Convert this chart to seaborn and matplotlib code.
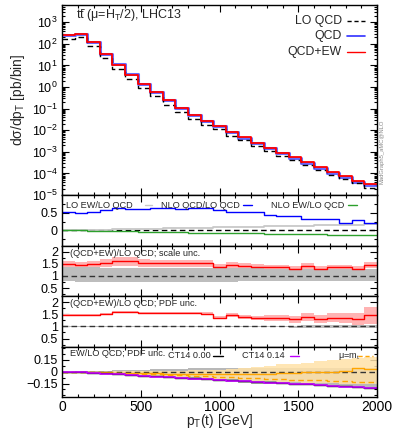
import numpy as np
import pandas as pd
import matplotlib
matplotlib.use("Agg")
import matplotlib.pyplot as plt
from matplotlib.lines import Line2D
from matplotlib.ticker import FixedLocator, MultipleLocator, LogLocator, NullFormatter
import seaborn as sns

sns.set_theme(style="ticks")
plt.rcParams['font.family'] = ['Liberation Sans', 'DejaVu Sans']
plt.rcParams['mathtext.fontset'] = 'custom'
plt.rcParams['mathtext.rm'] = 'Liberation Sans'
plt.rcParams['mathtext.it'] = 'Liberation Sans:italic'
plt.rcParams['mathtext.bf'] = 'Liberation Sans:bold'
plt.rcParams['axes.unicode_minus'] = True

# ---------------- data ----------------
edges = np.arange(0, 2001, 80)   # 25 bins of 80 GeV

lo_qcd = [168, 204, 80.5, 22.9, 6.9, 2.4, 0.90, 0.39, 0.155, 0.069, 0.0335, 0.0183,
          0.0117, 0.00565, 0.00336, 0.00191, 0.00111, 0.00066, 0.000423, 0.000236,
          0.000146, 8.6e-5, 5.6e-5, 3.5e-5, 2.2e-5]
qcd = [250, 300, 121, 35.5, 11.2, 3.85, 1.42, 0.61, 0.243, 0.108, 0.052, 0.028,
       0.0158, 0.0082, 0.0046, 0.00255, 0.00146, 0.00086, 0.00053, 0.00031,
       0.000182, 0.000110, 7.1e-5, 4.2e-5, 2.9e-5]
qcd_ew = [250, 300, 120, 35, 11, 3.8, 1.4, 0.6, 0.24, 0.107, 0.052, 0.028,
          0.016, 0.0083, 0.0047, 0.0026, 0.0015, 0.00089, 0.00055, 0.00033,
          0.00019, 0.000117, 7.6e-5, 4.5e-5, 3.2e-5]

# panel 2 ratios
lo_ew_r = [0.0, 0.005, 0.012, 0.018, 0.025, 0.032, 0.038, 0.045, 0.052, 0.058, 0.065, 0.072,
           0.08, 0.088, 0.095, 0.102, 0.11, 0.118, 0.125, 0.132, 0.14, 0.148, 0.156, 0.165, 0.175]
nlo_qcd_r = [0.53, 0.49, 0.53, 0.58, 0.63, 0.60, 0.61, 0.65, 0.63, 0.61, 0.63, 0.65, 0.58,
             0.51, 0.51, 0.51, 0.45, 0.41, 0.41, 0.31, 0.31, 0.31, 0.21, 0.29, 0.21]
nlo_ew_r = [0.0, -0.005, -0.012, -0.02, -0.027, -0.033, -0.04, -0.046, -0.052, -0.058, -0.064,
            -0.07, -0.076, -0.082, -0.087, -0.092, -0.098, -0.103, -0.108, -0.113, -0.118,
            -0.123, -0.128, -0.133, -0.14]

# panel 3 : (QCD+EW)/LO QCD with scale uncertainty
ratio_c = [1.49, 1.47, 1.49, 1.53, 1.60, 1.60, 1.55, 1.55, 1.55, 1.55, 1.55, 1.53, 1.37,
           1.47, 1.40, 1.36, 1.35, 1.35, 1.30, 1.40, 1.30, 1.36, 1.35, 1.29, 1.47]
scale_up = [1.60, 1.58, 1.62, 1.68, 1.78, 1.78, 1.68, 1.66, 1.66, 1.66, 1.66, 1.64, 1.50,
            1.58, 1.52, 1.48, 1.47, 1.46, 1.42, 1.52, 1.42, 1.47, 1.46, 1.40, 1.58]
scale_dn = [1.33, 1.32, 1.33, 1.36, 1.42, 1.42, 1.38, 1.38, 1.38, 1.38, 1.38, 1.36, 1.22,
            1.31, 1.25, 1.21, 1.20, 1.20, 1.16, 1.25, 1.16, 1.21, 1.20, 1.15, 1.31]
lo_scale_up = [1.36, 1.35, 1.35, 1.34, 1.33, 1.32, 1.33, 1.33, 1.33, 1.33, 1.32, 1.32, 1.32,
               1.31, 1.31, 1.31, 1.30, 1.30, 1.30, 1.30, 1.30, 1.29, 1.29, 1.29, 1.29]
lo_scale_dn = [0.78, 0.77, 0.75, 0.75, 0.75, 0.76, 0.76, 0.76, 0.76, 0.77, 0.77, 0.77, 0.77,
               0.77, 0.78, 0.78, 0.78, 0.78, 0.78, 0.78, 0.79, 0.79, 0.79, 0.79, 0.79]

# panel 4 : PDF uncertainty
pdf_up = [1.52, 1.50, 1.52, 1.56, 1.63, 1.63, 1.59, 1.59, 1.59, 1.60, 1.60, 1.58, 1.43,
          1.54, 1.48, 1.45, 1.46, 1.47, 1.44, 1.56, 1.47, 1.55, 1.57, 1.54, 1.80]
pdf_dn = [1.46, 1.44, 1.46, 1.50, 1.57, 1.57, 1.51, 1.51, 1.51, 1.50, 1.50, 1.48, 1.31,
          1.40, 1.32, 1.27, 1.24, 1.23, 1.16, 1.24, 1.13, 1.17, 1.13, 1.04, 1.12]
lo_pdf_up = [1.01, 1.01, 1.01, 1.01, 1.01, 1.01, 1.01, 1.01, 1.01, 1.02, 1.02, 1.02, 1.02,
             1.02, 1.02, 1.03, 1.03, 1.03, 1.03, 1.04, 1.04, 1.04, 1.05, 1.05, 1.05]
lo_pdf_dn = [0.99, 0.99, 0.99, 0.99, 0.99, 0.99, 0.99, 0.99, 0.99, 0.98, 0.98, 0.98, 0.98,
             0.97, 0.97, 0.97, 0.96, 0.96, 0.95, 0.95, 0.94, 0.93, 0.93, 0.92, 0.92]

# panel 5 : EW/LO QCD
ct14_000 = [0.0, -0.006, -0.013, -0.02, -0.03, -0.04, -0.05, -0.06, -0.068, -0.076, -0.084,
            -0.092, -0.10, -0.11, -0.118, -0.126, -0.134, -0.142, -0.15, -0.158, -0.166,
            -0.176, -0.186, -0.196, -0.205]
ct14_014 = [0.0, -0.008, -0.016, -0.024, -0.034, -0.044, -0.054, -0.064, -0.072, -0.08, -0.088,
            -0.096, -0.104, -0.114, -0.122, -0.13, -0.138, -0.146, -0.154, -0.162, -0.17,
            -0.18, -0.19, -0.2, -0.208]
ct14_unc_up = [0.0, 0.004, 0.008, 0.012, 0.016, 0.02, 0.024, 0.028, 0.032, 0.036, 0.04, 0.044,
               0.048, 0.05, 0.05, 0.05, 0.05, 0.05, 0.05, 0.05, 0.05, 0.05, 0.05, 0.05, 0.05]
ct14_unc_dn = [0.0, -0.01, -0.02, -0.03, -0.04, -0.05, -0.06, -0.07, -0.08, -0.09, -0.1, -0.11,
               -0.12, -0.13, -0.14, -0.15, -0.155, -0.16, -0.165, -0.17, -0.18, -0.19, -0.2,
               -0.21, -0.22]
mt_c = [0.0, -0.002, -0.005, -0.008, -0.012, -0.015, -0.018, -0.022, -0.025, -0.028, -0.03,
        -0.032, -0.035, -0.035, -0.03, -0.03, -0.025, -0.02, -0.015, -0.01, -0.005, 0.0,
        0.01, 0.05, 0.035]
mt_dash = [0.0, -0.004, -0.008, -0.012, -0.018, -0.024, -0.03, -0.036, -0.042, -0.048, -0.054,
           -0.06, -0.066, -0.072, -0.078, -0.084, -0.09, -0.096, -0.1, -0.105, -0.11, -0.115,
           -0.12, -0.125, -0.13]
mt_up = [0.0, 0.0, 0.0, 0.0, 0.002, 0.004, 0.006, 0.008, 0.01, 0.012, 0.015, 0.02, 0.025,
         0.03, 0.045, 0.06, 0.075, 0.09, 0.1, 0.11, 0.13, 0.15, 0.16, 0.17, 0.18]
mt_dn = [0.0, -0.006, -0.012, -0.018, -0.026, -0.034, -0.042, -0.05, -0.058, -0.066, -0.074,
         -0.082, -0.09, -0.098, -0.106, -0.114, -0.12, -0.126, -0.132, -0.138, -0.144, -0.148,
         -0.152, -0.156, -0.16]

xticks = [0, 500, 1000, 1500, 2000]

# ---------------- helpers ----------------
def step(ax, vals, **kw):
    df = pd.DataFrame({"x": edges, "y": list(vals) + [vals[-1]]})
    sns.lineplot(data=df, x="x", y="y", ax=ax, drawstyle="steps-post",
                 estimator=None, sort=False, **kw)


def band(ax, lo, hi, **kw):
    ax.fill_between(edges, list(lo) + [lo[-1]], list(hi) + [hi[-1]], step="post",
                    linewidth=0, **kw)


W_PX, H_PX = 395, 429
fig = plt.figure(figsize=(W_PX / 100, H_PX / 100), dpi=100)
L, R = 62, 377


def add_ax(top, bot):
    return fig.add_axes([L / W_PX, 1 - bot / H_PX, (R - L) / W_PX, (bot - top) / H_PX])


ax1 = add_ax(5, 195)
ax2 = add_ax(195, 246)
ax3 = add_ax(246, 296)
ax4 = add_ax(296, 347)
ax5 = add_ax(347, 397)
axes = [ax1, ax2, ax3, ax4, ax5]

TXT = 6.6


def legend_row(ax, top, bot, xt, xl0, xl1, y, label, fs, ha='right', **lkw):
    h = bot - top
    yf = 1 - (y - top) / h
    ax.text((xt - L) / (R - L), yf, label, transform=ax.transAxes, fontsize=fs,
            ha=ha, va='center', zorder=6)
    ax.add_line(Line2D([(xl0 - L) / (R - L), (xl1 - L) / (R - L)], [yf, yf],
                       transform=ax.transAxes, zorder=6, **lkw))


# ---------------- main panel ----------------
ax1.set_yscale('log')
step(ax1, qcd, color='#5a5aff', linewidth=2.2, alpha=0.9)
step(ax1, lo_qcd, color='black', linewidth=1.0, linestyle=(0, (4, 2.5)))
step(ax1, qcd_ew, color='#ff0000', linewidth=1.3)
ax1.set_ylim(1e-5, 6300)
ax1.yaxis.set_major_locator(LogLocator(base=10, numticks=20))
ax1.yaxis.set_minor_locator(LogLocator(base=10, subs=np.arange(2, 10), numticks=20))
ax1.yaxis.set_minor_formatter(NullFormatter())
ax1.text(0.045, 0.948, "tt\u0304 (μ=H$_{\\rm T}$/2), LHC13", transform=ax1.transAxes,
         fontsize=9, ha='left', va='center')

legend_row(ax1, 5, 195, 342, 347, 365, 21, "LO QCD", 8.8, color='black', linewidth=1.0,
           linestyle=(0, (3, 2)))
legend_row(ax1, 5, 195, 342, 347, 365, 36, "QCD", 8.8, color='#3030ff', linewidth=1.2)
legend_row(ax1, 5, 195, 342, 347, 365, 52, "QCD+EW", 8.8, color='#ff0000', linewidth=1.0)

fig.text(382 / W_PX, 1 - 152 / H_PX, "MadGraph5_aMC@NLO", rotation=90, fontsize=4.2,
         color='#888888', ha='center', va='center')

# ---------------- panel 2 ----------------
ax2.axhline(0, color='black', linewidth=1.0, linestyle=(0, (4, 2.5)))
step(ax2, lo_ew_r, color='#c8c8c8', linewidth=1.3)
step(ax2, nlo_qcd_r, color='#0000ff', linewidth=1.0)
step(ax2, nlo_ew_r, color='#2ca02c', linewidth=1.0)
ax2.set_ylim(-0.45, 1.01)
legend_row(ax2, 195, 246, 66, 145, 152, 205, "LO EW/LO QCD", TXT, ha='left',
           color='#c8c8c8', linewidth=1.0)
legend_row(ax2, 195, 246, 161, 243, 252, 205, "NLO QCD/LO QCD", TXT, ha='left',
           color='#0000ff', linewidth=1.0)
legend_row(ax2, 195, 246, 271, 348, 357, 205, "NLO EW/LO QCD", TXT, ha='left',
           color='#2ca02c', linewidth=1.0)

# ---------------- panel 3 ----------------
band(ax3, scale_dn, scale_up, color='#ffb3b3')
band(ax3, lo_scale_dn, lo_scale_up, color='#bdbdbd')
ax3.axhline(1, color='#333333', linewidth=1.0, linestyle=(0, (4, 2.5)))
step(ax3, ratio_c, color='#ff0000', linewidth=1.0)
ax3.set_ylim(0.18, 2.23)
ax3.text((70 - L) / (R - L), 1 - (254 - 246) / 50, "(QCD+EW)/LO QCD; scale unc.",
         transform=ax3.transAxes, fontsize=TXT, ha='left', va='center')

# ---------------- panel 4 ----------------
band(ax4, pdf_dn, pdf_up, color='#ffb3b3')
band(ax4, lo_pdf_dn, lo_pdf_up, color='#bdbdbd')
ax4.axhline(1, color='#333333', linewidth=1.0, linestyle=(0, (4, 2.5)))
step(ax4, ratio_c, color='#ff0000', linewidth=1.0)
ax4.set_ylim(0.15, 2.26)
ax4.text((70 - L) / (R - L), 1 - (303 - 296) / 51, "(QCD+EW)/LO QCD; PDF unc.",
         transform=ax4.transAxes, fontsize=TXT, ha='left', va='center')

# ---------------- panel 5 ----------------
band(ax5, ct14_unc_dn, ct14_unc_up, color='#b8b8b8')
band(ax5, mt_dn, mt_up, color='#ffe2a8', alpha=0.85)
ax5.axhline(0, color='#333333', linewidth=1.0, linestyle=(0, (4, 2.5)))
step(ax5, mt_dash, color='#ffa500', linewidth=1.0, linestyle=(0, (4, 2.5)))
step(ax5, mt_c, color='#ffa500', linewidth=1.0)
step(ax5, ct14_000, color='black', linewidth=1.0)
step(ax5, ct14_014, color='#c000ff', linewidth=1.2)
ax5.set_ylim(-0.32, 0.31)
ax5.text((70 - L) / (R - L), 1 - (354 - 347) / 50, "EW/LO QCD; PDF unc.",
         transform=ax5.transAxes, fontsize=TXT, ha='left', va='center')
legend_row(ax5, 347, 397, 168, 213, 223, 356, "CT14 0.00", TXT, ha='left',
           color='black', linewidth=1.0)
legend_row(ax5, 347, 397, 242, 290, 299, 356, "CT14 0.14", TXT, ha='left',
           color='#c000ff', linewidth=1.0)
legend_row(ax5, 347, 397, 338, 358, 373, 356, "μ=m$_{\\rm t}$", TXT, ha='left',
           color='#ffa500', linewidth=1.0, linestyle=(0, (3, 2)))

# ---------------- axes styling (after seaborn calls) ----------------
for ax in axes:
    ax.set_xlim(0, 2000)
    ax.xaxis.set_major_locator(FixedLocator(xticks))
    ax.xaxis.set_minor_locator(MultipleLocator(100))
    ax.tick_params(which='both', direction='in', top=True, right=True, width=0.8,
                   labelsize=9, pad=3, colors='black')
    ax.tick_params(which='major', length=5)
    ax.tick_params(which='minor', length=2.5)
    for s in ax.spines.values():
        s.set_linewidth(1.0)
        s.set_color('black')
    ax.set_xlabel("")
    ax.set_ylabel("")
    if ax is not ax5:
        ax.tick_params(labelbottom=False)

ax2.yaxis.set_major_locator(FixedLocator([0, 0.5]))
ax2.yaxis.set_minor_locator(FixedLocator([-0.25, 0.25, 0.75]))
ax2.set_yticklabels(["0", "0.5"])
for ax in (ax3, ax4):
    ax.yaxis.set_major_locator(FixedLocator([0.5, 1, 1.5, 2]))
    ax.yaxis.set_minor_locator(FixedLocator([0.25, 0.75, 1.25, 1.75]))
    ax.set_yticklabels(["0.5", "1", "1.5", "2"])
ax5.yaxis.set_major_locator(FixedLocator([-0.15, 0, 0.15]))
ax5.yaxis.set_minor_locator(FixedLocator([-0.3, -0.225, -0.075, 0.075, 0.225, 0.3]))
ax5.set_yticklabels(["\u22120.15", "0", "0.15"])
ax5.set_xticklabels(["0", "500", "1000", "1500", "2000"])
ax5.tick_params(axis='x', labelsize=10, pad=2)

ax1.set_ylabel("dσ/dp$_{\\rm T}$ [pb/bin]", fontsize=10, labelpad=4)
ax5.set_xlabel("p$_{\\rm T}$(t) [GeV]", fontsize=10, labelpad=-1)

fig.savefig("out.png", dpi=100)
